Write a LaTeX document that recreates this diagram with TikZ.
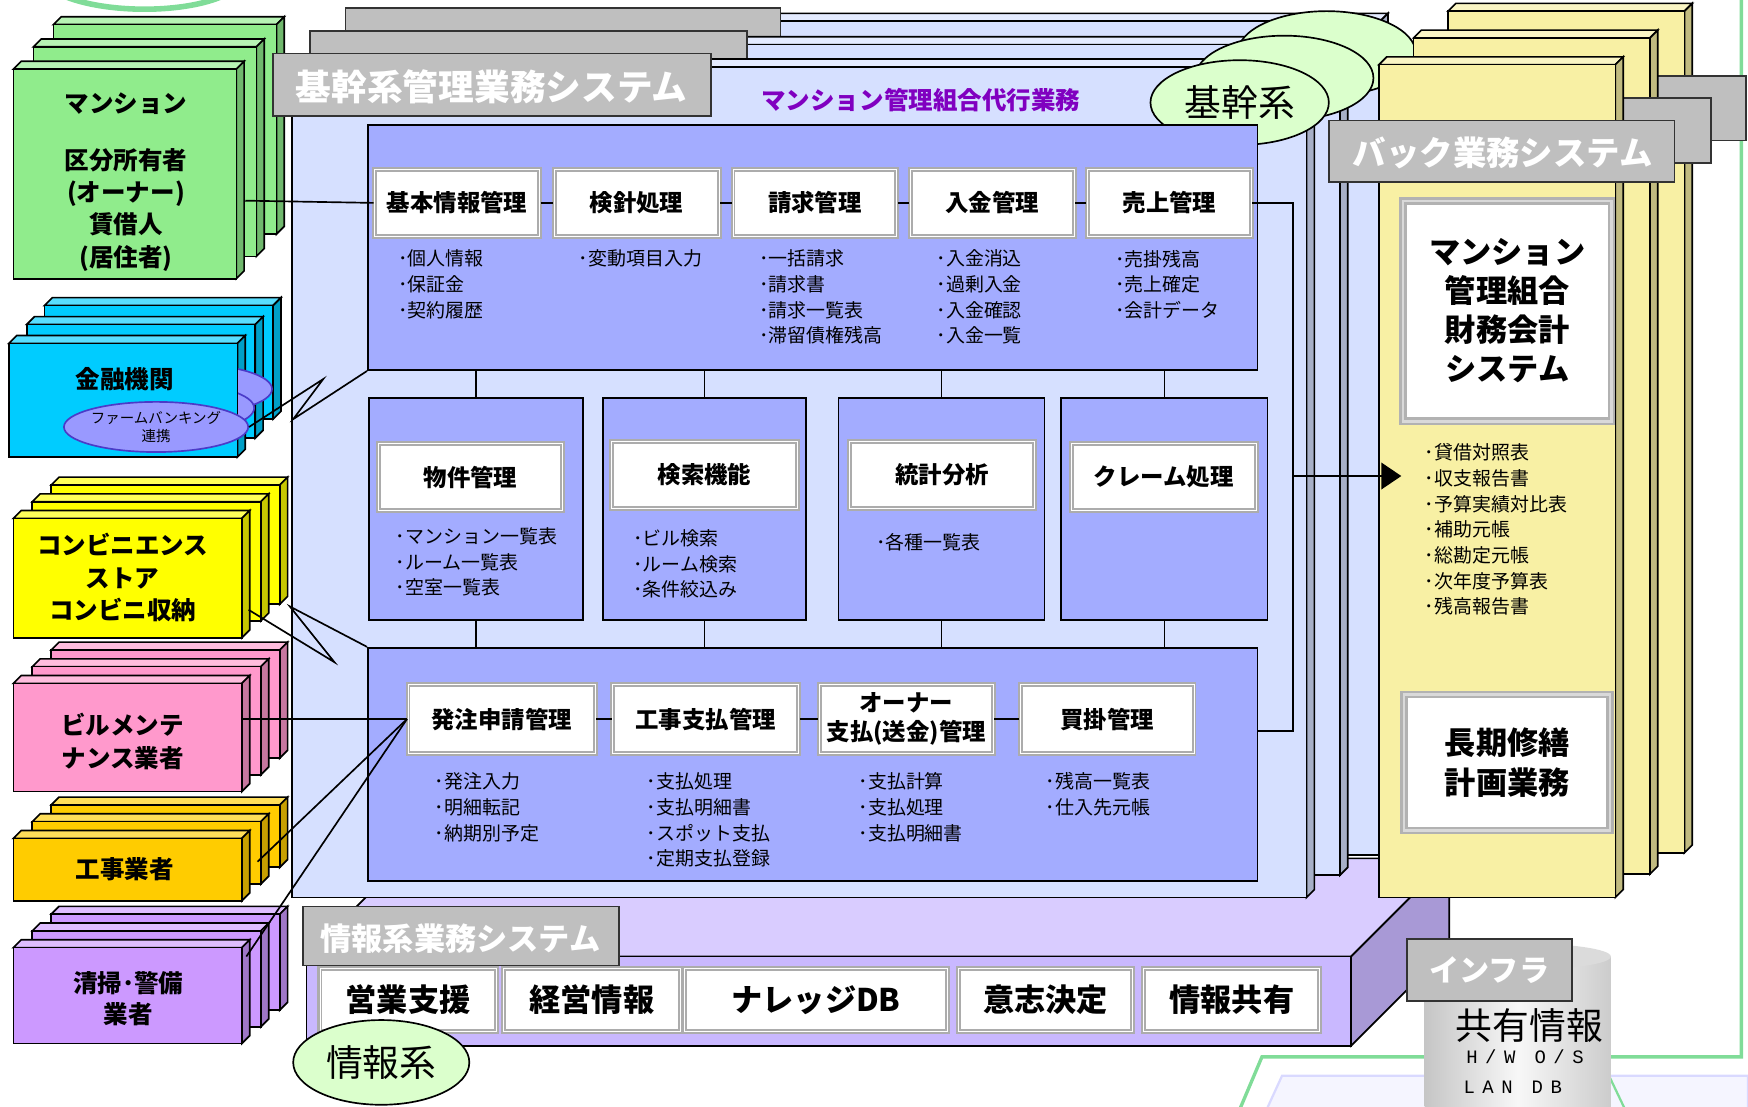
\documentclass[tikz,border=0pt]{standalone}
\usepackage{fontspec}
\setmainfont{Noto Sans CJK JP}
\newfontfamily\monofont[LetterSpace=40]{Liberation Mono}
\usetikzlibrary{arrows.meta, positioning, shapes.geometric}

\definecolor{grn}{HTML}{90EC8C}
\definecolor{cyn}{HTML}{00CCFF}
\definecolor{ylw}{HTML}{FFFF00}
\definecolor{pnk}{HTML}{FF99CC}
\definecolor{org}{HTML}{FFCC00}
\definecolor{prp}{HTML}{CC99FF}
\definecolor{pale}{HTML}{D6E0FF}
\definecolor{peri}{HTML}{A3ACFF}
\definecolor{tabgray}{HTML}{BFBFBF}
\definecolor{mint}{HTML}{DBFFCC}
\definecolor{cream}{HTML}{F8F0A4}
\definecolor{lav}{HTML}{D9CCFF}
\definecolor{lavfront}{HTML}{C9B8FF}
\definecolor{lavside}{HTML}{A899D6}
\definecolor{violet}{HTML}{8000C0}
\definecolor{deco}{HTML}{80DC98}
\definecolor{fbfill}{HTML}{9999FF}
\definecolor{fbline}{HTML}{4B3BC8}

\newcommand{\fsz}[2]{\fontsize{#1}{#2}\selectfont}
% 3D slab: x, y, width, height, colour
\newcommand{\slab}[5]{%
  \filldraw[slabline, fill=#5!65!white] (#1,#2) -- ++(7,-7) -- ++(#3,0) -- ++(-7,7) -- cycle;
  \filldraw[slabline, fill=#5!78!black] (#1+#3,#2) -- ++(7,-7) -- ++(0,#4) -- ++(-7,7) -- cycle;
  \filldraw[slabline, fill=#5] (#1,#2) rectangle ++(#3,#4);
}

\tikzset{slabline/.style={draw=black, line width=1.5pt, line join=miter}}
\tikzset{stacklbl/.style={font=\bfseries\fsz{22}{29}, align=center, inner sep=0}}
\tikzset{tabbox/.style={draw=black!80, line width=1.5pt, fill=tabgray}}
\tikzset{tabtext/.style={text=white, inner sep=0, font=\bfseries\fsz{#1}{#1}}}
\tikzset{kikan/.style={ellipse, draw=black, line width=1.5pt, fill=mint, minimum width=160, minimum height=76, inner sep=0, font=\fsz{33}{33}}}
\tikzset{inbox/.style={draw=black, line width=1.5pt, fill=peri, inner sep=0}}
\tikzset{modbox/.style={draw=gray!65, double=white, double distance=0.8pt, line width=1.8pt, fill=white, inner sep=0, align=center, font=\bfseries\fsz{21}{26}}}
\tikzset{bigbox/.style={draw=gray!60, double=gray!30, double distance=2pt, line width=2.5pt, fill=white, inner sep=0, align=center, font=\bfseries\fsz{28}{35}}}
\tikzset{items/.style={anchor=north west, align=left, inner sep=0, font=\fsz{17}{23}}}
\tikzset{wire/.style={draw=black, line width=1.5pt}}
\tikzset{bigarrow/.style={wire, -{Triangle[length=18pt, width=24pt]}}}

\begin{document}
\begin{tikzpicture}[x=1pt, y=-1pt]
\useasboundingbox (0,0) rectangle (1568,993);

% slide decoration
\draw[deco, line width=5pt] (52,-6) .. controls (90,13) and (170,13) .. (205,-6);
\filldraw[fill=blue!4, draw=blue!15, line width=2pt] (1134,1000) -- (1150,965) -- (1568,965) -- (1568,1000) -- cycle;
\draw[deco, line width=3pt] (1562,-5) -- (1562,948) -- (1132,948) -- (1110,1000);
\draw[deco, line width=2pt] (1440,958) -- (1460,1000);

% external parties
\foreach \k in {2,1,0} {\slab{12+18*\k}{62-20*\k}{200}{188}{grn}}
\node[stacklbl] (mansion) at (113,93) {マンション};
\node[stacklbl] (owners) at (113,188) {区分所有者\\(オーナー)\\賃借人\\(居住者)};

\foreach \k in {2,1,0} {\slab{8+16*\k}{308-17*\k}{205}{102}{cyn}}
\foreach \k in {2,1} {\filldraw[fill=fbfill, draw=fbline, line width=1.5pt] (140+16*\k,383-17*\k) ellipse [x radius=72, y radius=22];}
\filldraw[slabline, fill=cyn] (8,308) rectangle ++(205,102);
\node[stacklbl] (bank) at (112,340) {金融機関};
\node[ellipse, draw=fbline, line width=1.5pt, fill=fbfill, minimum width=145, minimum height=45, inner sep=0, align=center, font=\fsz{13}{16}] (fbank) at (140,383) {ファームバンキング\\連携};

\foreach \k in {2,1,0} {\slab{12+17*\k}{465-15*\k}{205}{107}{ylw}}
\node[stacklbl] (cvs) at (110,518) {コンビニエンス\\ストア\\コンビニ収納};

\foreach \k in {2,1,0} {\slab{12+17*\k}{613-15*\k}{205}{97}{pnk}}
\node[stacklbl, font=\bfseries\fsz{22}{30}] (bm) at (110,665) {ビルメンテ\\ナンス業者};

\foreach \k in {2,1,0} {\slab{12+17*\k}{752-15*\k}{205}{56}{org}}
\node[stacklbl] (koji) at (112,780) {工事業者};

\foreach \k in {2,1,0} {\slab{12+17*\k}{850-15*\k}{205}{86}{prp}}
\node[stacklbl, font=\bfseries\fsz{22}{28}] (seiso) at (115,896) {清掃･警備\\業者};

% information system platform
\filldraw[slabline, fill=lav] (275,858) -- (363,770) -- (1300,770) -- (1212,858) -- cycle;
\filldraw[slabline, fill=lavside] (1212,858) -- (1300,770) -- (1300,850) -- (1212,938) -- cycle;
\filldraw[slabline, fill=lavfront] (275,858) rectangle (1212,938);

% core system panels
\slab{330}{19}{908}{748}{pale}
\draw[tabbox] (310,7) rectangle (700,63);
\slab{300}{40}{902}{745}{pale}
\draw[tabbox] (278,28) rectangle (670,84);
\slab{262}{60}{910}{745}{pale}
\draw[tabbox] (245,48) rectangle (638,104);
\node[tabtext=32] (coretab) at (441,78) {基幹系管理業務システム};
\node[kikan] (kikan3) at (1190,48) {};
\node[kikan] (kikan2) at (1152,70) {};
\node[kikan] (kikan1) at (1112,92) {基幹系};
\node[text=violet, inner sep=0, font=\bfseries\fsz{22}{22}] (agency) at (826,90) {マンション管理組合代行業務};

% inner blocks
\node[inbox, minimum width=798, minimum height=220] (upper) at (729,222) {};
\node[inbox, minimum width=192, minimum height=199] (bukken) at (427,456.5) {};
\node[inbox, minimum width=182, minimum height=199] (kensaku) at (632,456.5) {};
\node[inbox, minimum width=185, minimum height=199] (toukei) at (844.5,456.5) {};
\node[inbox, minimum width=185, minimum height=199] (claim) at (1044.5,456.5) {};
\node[inbox, minimum width=798, minimum height=209] (lower) at (729,685.5) {};
\foreach \b in {bukken, kensaku, toukei, claim} {
  \draw[wire] (\b.north) -- (\b.north |- upper.south);
  \draw[wire] (\b.south) -- (\b.south |- lower.north);
}

% modules
\node[modbox, minimum width=148, minimum height=60] (kihon) at (410,182) {基本情報管理};
\node[modbox, minimum width=148, minimum height=60] (kenshin) at (571,182) {検針処理};
\node[modbox, minimum width=147, minimum height=60] (seikyu) at (731,182) {請求管理};
\node[modbox, minimum width=147, minimum height=60] (nyukin) at (890,182) {入金管理};
\node[modbox, minimum width=147, minimum height=60] (uriage) at (1049,182) {売上管理};
\foreach \a/\b in {kihon/kenshin, kenshin/seikyu, seikyu/nyukin, nyukin/uriage} {\draw[wire] (\a.east) -- (\b.west);}

\node[modbox, minimum width=165, minimum height=60] (bukkent) at (422,428) {物件管理};
\node[modbox, minimum width=167, minimum height=60] (kensakut) at (632,426) {検索機能};
\node[modbox, minimum width=166, minimum height=60] (toukeit) at (845,426) {統計分析};
\node[modbox, minimum width=166, minimum height=60] (claimt) at (1044,428) {クレーム処理};

\node[modbox, minimum width=168, minimum height=62] (hachu) at (450,645) {発注申請管理};
\node[modbox, minimum width=167, minimum height=62] (kouji) at (633,645) {工事支払管理};
\node[modbox, minimum width=156, minimum height=62] (owner) at (813,645) {オーナー\\支払(送金)管理};
\node[modbox, minimum width=156, minimum height=62] (kaikake) at (993,645) {買掛管理};
\foreach \a/\b in {hachu/kouji, kouji/owner, owner/kaikake} {\draw[wire] (\a.east) -- (\b.west);}

% item lists
\node[items] (kihonl) at (357,224) {･個人情報\\･保証金\\･契約履歴};
\node[items] (kenshinl) at (519,224) {･変動項目入力};
\node[items] (seikyul) at (681,224) {･一括請求\\･請求書\\･請求一覧表\\･滞留債権残高};
\node[items] (nyukinl) at (840,224) {･入金消込\\･過剰入金\\･入金確認\\･入金一覧};
\node[items] (uriagel) at (1000,224) {･売掛残高\\･売上確定\\･会計データ};
\node[items] (bukkenl) at (355,473) {･マンション一覧表\\･ルーム一覧表\\･空室一覧表};
\node[items] (kensakul) at (568,475) {･ビル検索\\･ルーム検索\\･条件絞込み};
\node[items] (toukeil) at (786,478) {･各種一覧表};
\node[items] (hachul) at (390,693) {･発注入力\\･明細転記\\･納期別予定};
\node[items] (koujil) at (580,693) {･支払処理\\･支払明細書\\･スポット支払\\･定期支払登録};
\node[items] (ownerl) at (770,693) {･支払計算\\･支払処理\\･支払明細書};
\node[items] (kaikakel) at (938,693) {･残高一覧表\\･仕入先元帳};

% back office system
\slab{1299}{10}{212}{755}{cream}
\draw[tabbox] (1330,68) rectangle (1566,126);
\slab{1268}{34}{212}{750}{cream}
\draw[tabbox] (1300,88) rectangle (1535,146);
\slab{1237}{58}{212}{747}{cream}
\draw[tabbox] (1192,108) rectangle (1502,163);
\node[tabtext=30] (backtab) at (1348,137) {バック業務システム};
\node[bigbox, minimum width=187, minimum height=198] (fin) at (1352,279) {マンション\\管理組合\\財務会計\\システム};
\node[items] (finl) at (1278,398) {･貸借対照表\\･収支報告書\\･予算実績対比表\\･補助元帳\\･総勘定元帳\\･次年度予算表\\･残高報告書};
\node[bigbox, minimum width=185, minimum height=122, font=\bfseries\fsz{28}{36}] (chouki) at (1352,684) {長期修繕\\計画業務};

% links inside and to back office
\coordinate (bus-top) at (1160,182);
\coordinate (bus-bot) at (1160,656);
\coordinate (bus-mid) at (1160,427);
\coordinate (arr-end) at (1257,427);
\draw[wire] (uriage.east) -- (bus-top) -- (bus-bot) -- (lower.east |- bus-bot);
\draw[bigarrow] (bus-mid) -- (arr-end);

% links from outside parties
\coordinate (mansion-r) at (220,180);
\coordinate (bz1) at (290,340);
\coordinate (bz2) at (263,376);
\coordinate (cvs-r) at (223,547);
\coordinate (cz1) at (300,594);
\coordinate (cz2) at (260,544);
\coordinate (bm-r) at (217,645);
\coordinate (koji-r) at (231,773);
\coordinate (seiso-r) at (221,858);
\draw[wire] (mansion-r) -- (kihon.west);
\draw[wire] (fbank.east) -- (bz1) -- (bz2) -- (upper.south west);
\draw[wire] (cvs-r) -- (cz1) -- (cz2) -- (lower.north west);
\draw[wire] (bm-r) -- (hachu.west);
\draw[wire] (koji-r) -- (hachu.west);
\draw[wire] (seiso-r) -- (hachu.west);

% information system
\draw[tabbox] (272,813) rectangle (555,866);
\node[tabtext=28] (infotab) at (413,842) {情報系業務システム};
\node[modbox, minimum width=158, minimum height=57, font=\bfseries\fsz{28}{28}] (eigyo) at (366,897) {営業支援};
\node[modbox, minimum width=158, minimum height=57, font=\bfseries\fsz{28}{28}] (keiei) at (531,897) {経営情報};
\node[modbox, minimum width=236, minimum height=57, font=\bfseries\fsz{28}{28}] (knowledge) at (732,897) {ナレッジDB};
\node[modbox, minimum width=156, minimum height=57, font=\bfseries\fsz{28}{28}] (ishi) at (938,897) {意志決定};
\node[modbox, minimum width=158, minimum height=57, font=\bfseries\fsz{28}{28}] (kyoyu) at (1105,897) {情報共有};
\node[kikan, minimum width=158] (joho) at (342,953) {情報系};

% infrastructure
\shade[left color=gray!45, right color=gray!40, middle color=gray!6] (1278,858) rectangle (1445,1000);
\fill[gray!28] (1361.5,858) ellipse [x radius=83.5, y radius=12];
\draw[tabbox] (1262,842) rectangle (1410,898);
\node[tabtext=27] (infratab) at (1336,870) {インフラ};
\node[inner sep=0, font=\fsz{33}{33}] (share) at (1372,920) {共有情報};
\node[inner sep=0, font=\monofont\fsz{17}{17}] (hwos) at (1368,948) {H/W O/S};
\node[inner sep=0, font=\monofont\fsz{17}{17}] (landb) at (1357,975) {LAN DB};
\end{tikzpicture}
\end{document}
